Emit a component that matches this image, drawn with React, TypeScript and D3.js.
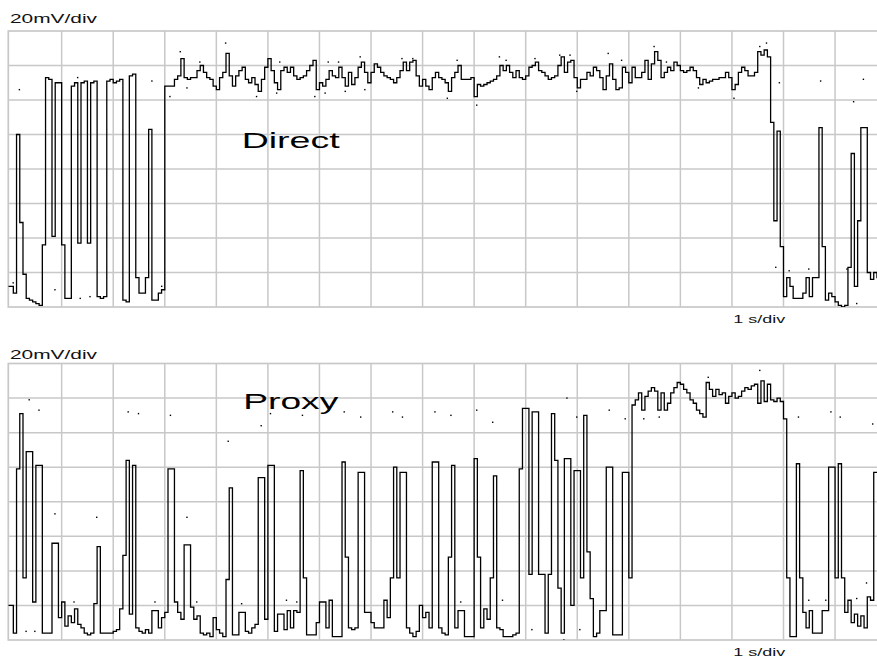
import React, { useRef, useEffect } from 'react';
import * as d3 from 'd3';

// scope record: 16 samples per second, values in mV
const samplesPerSecond = 16;
const voltLabel = '20mV/div';
const timeLabel = '1 s/div';
const panelNames = ['Direct', 'Proxy'];

const directMv = [
  12, 8, 100, 49, 19, 5, 4, 3, 2, 1, 36, 133, 132, 41, 130, 130,
  36, 5, 5, 128, 130, 37, 130, 131, 37, 130, 131, 6, 5, 6, 131, 132,
  130, 131, 132, 4, 3, 134, 135, 17, 8, 8, 17, 103, 4, 4, 8, 10,
  128, 128, 128, 132, 134, 144, 133, 132, 133, 133, 137, 140, 136, 133, 132, 128,
  126, 133, 136, 147, 134, 128, 134, 137, 139, 132, 130, 133, 129, 125, 132, 139,
  144, 137, 130, 126, 137, 139, 136, 139, 134, 132, 133, 134, 137, 140, 143, 126,
  130, 128, 132, 137, 134, 133, 139, 133, 128, 136, 129, 133, 139, 142, 136, 130,
  136, 141, 139, 136, 134, 133, 132, 130, 133, 137, 142, 137, 142, 143, 134, 128,
  132, 128, 126, 133, 136, 133, 132, 130, 125, 133, 136, 140, 132, 132, 132, 133,
  122, 129, 128, 129, 130, 131, 132, 134, 140, 137, 140, 136, 133, 137, 133, 132,
  134, 139, 140, 142, 137, 136, 134, 132, 133, 134, 140, 145, 136, 142, 143, 133,
  127, 132, 132, 136, 134, 139, 137, 133, 126, 134, 141, 132, 126, 127, 139, 136,
  130, 139, 133, 133, 136, 143, 132, 141, 148, 143, 133, 136, 139, 137, 142, 140,
  137, 136, 137, 139, 137, 133, 129, 132, 130, 131, 132, 132, 133, 133, 136, 133,
  126, 129, 136, 139, 137, 134, 134, 136, 148, 146, 149, 145, 107, 50, 102, 35,
  6, 17, 12, 5, 5, 5, 8, 17, 6, 17, 17, 104, 35, 4, 8, 6,
  3, 1, 0, 1, 23, 89, 12, 50, 104, 104, 20, 16, 20, 17, 15, 17,
];

const proxyMv = [
  20, 4, 99, 131, 36, 109, 109, 22, 101, 101, 4, 4, 4, 56, 56, 13,
  22, 8, 14, 10, 18, 9, 7, 4, 3, 4, 21, 54, 4, 4, 4, 4,
  5, 6, 18, 49, 104, 15, 101, 7, 5, 4, 6, 4, 17, 17, 7, 13,
  16, 99, 99, 22, 16, 12, 55, 55, 19, 12, 14, 4, 3, 4, 2, 13,
  6, 4, 2, 35, 88, 3, 3, 16, 16, 5, 4, 7, 9, 94, 94, 12,
  101, 101, 5, 15, 15, 6, 17, 7, 17, 16, 98, 36, 3, 3, 3, 10,
  22, 22, 7, 23, 2, 2, 2, 103, 48, 7, 6, 7, 97, 97, 16, 16,
  10, 7, 7, 7, 23, 13, 36, 100, 36, 97, 97, 7, 4, 2, 5, 20,
  13, 16, 7, 103, 103, 7, 4, 3, 48, 101, 7, 17, 17, 2, 2, 2,
  105, 48, 7, 18, 12, 36, 95, 7, 6, 2, 2, 2, 3, 4, 99, 134,
  134, 38, 132, 132, 38, 38, 4, 38, 131, 104, 30, 4, 105, 105, 20, 98,
  98, 36, 130, 51, 24, 2, 4, 17, 17, 100, 100, 3, 3, 3, 97, 97,
  36, 136, 139, 143, 133, 141, 144, 146, 144, 133, 143, 133, 137, 143, 146, 149,
  148, 145, 143, 139, 137, 133, 131, 129, 149, 145, 141, 145, 142, 143, 137, 141,
  143, 140, 141, 144, 146, 145, 147, 148, 137, 150, 138, 148, 139, 138, 140, 138,
  128, 36, 2, 2, 102, 36, 16, 7, 17, 4, 4, 4, 17, 17, 100, 100,
  36, 102, 36, 16, 23, 10, 15, 8, 14, 7, 25, 23, 97, 97, 97, 40,
];

// stray single-sample dots (time s, mV)
const directDotT = [0.18, 1.31, 2.75, 4.18, 3.3, 3.68, 5.23, 3.1, 3.43, 4.78, 5.17, 0.06, 0.87, 1.36, 1.55, 2.94,
  5.91, 6.11, 6.17, 6.37, 6.5, 6.79, 6.88, 7.6, 7.81, 8.48, 8.67, 9.05, 9.49, 9.62, 10.18, 10.66, 10.86, 10.99,
  11.6, 11.86, 12.49, 12.73, 13.35, 14.04, 14.54, 14.67, 14.92, 15.72, 16.55, 16.36, 14.85, 15.11, 15.49, 16.23, 16.42];
const directDotMv = [126, 133, 131, 153, 148, 142, 142, 122, 127, 122, 124, 14, 10, 5, 6, 12,
  122, 124, 142, 142, 125, 145, 126, 144, 144, 121, 143, 117, 145, 143, 144, 146, 146, 125,
  147, 143, 151, 142, 127, 121, 151, 153, 130, 131, 132, 119, 23, 21, 22, 22, 2];

const proxyDotT = [0.37, 0.56, 2.29, 2.49, 3.11, 4.23, 4.87, 5.05, 0.87, 1.68, 3.43, 0.31, 0.48, 1.24, 2.81, 3.62,
  4.49, 5.36, 5.56, 5.67, 6.48, 6.8, 7.42, 7.61, 8.24, 8.55, 9.05, 9.36, 10.8, 10.99, 8.74, 9.55, 10.12, 10.74,
  11.05, 11.62, 11.93, 14.54, 13.54, 15.29, 15.92, 16.1, 16.73, 15.49, 15.82, 16.42, 16.61, 12.29, 12.59];
const proxyDotMv = [139, 133, 132, 131, 130, 115, 124, 131, 73, 71, 71, 5, 5, 22, 22, 22,
  21, 23, 22, 130, 132, 129, 132, 129, 132, 130, 133, 126, 140, 129, 22, 23, 6, 0,
  6, 133, 128, 156, 152, 129, 132, 129, 125, 23, 23, 24, 33, 128, 129];

const App = () => {
  const svgRef = useRef<SVGSVGElement>(null);

  useEffect(() => {
    const svg = d3.select(svgRef.current);
    svg.selectAll('*').remove();

    const font = 'Liberation Sans, Arial, sans-serif';
    const gridColor = '#c8c8c8';
    const left = 8.3;

    // 1 s per division
    const x = d3.scaleLinear().domain([0, 16]).range([10.1, 835.06]);

    const panels = [
      { name: panelNames[0], top: 31, bottom: 307, trace: directMv, dotT: directDotT, dotMv: directDotMv, voltY: 22.5, timeY: 323, nameY: 148.3, nameX: 241.7, nameW: 98 },
      { name: panelNames[1], top: 363.5, bottom: 640, trace: proxyMv, dotT: proxyDotT, dotMv: proxyDotMv, voltY: 358.5, timeY: 655.5, nameX: 243.3, nameY: 408.5, nameW: 95 },
    ];

    panels.forEach((p, pi) => {
      // 20 mV per division, 8 divisions
      const y = d3.scaleLinear().domain([0, 160]).range([p.bottom, p.top]);
      const g = svg.append('g');

      const clipId = `clip-${pi}`;
      svg.append('clipPath').attr('id', clipId)
        .append('rect')
        .attr('x', left).attr('y', p.top)
        .attr('width', 900).attr('height', p.bottom - p.top);

      // grid
      g.selectAll('line.v')
        .data(d3.range(1, 17))
        .enter().append('line')
        .attr('x1', d => x(d)).attr('x2', d => x(d))
        .attr('y1', p.top).attr('y2', p.bottom)
        .attr('stroke', gridColor).attr('stroke-width', 1.5);
      g.selectAll('line.h')
        .data(d3.range(20, 160, 20))
        .enter().append('line')
        .attr('x1', left).attr('x2', 900)
        .attr('y1', d => y(d)).attr('y2', d => y(d))
        .attr('stroke', gridColor).attr('stroke-width', 1.5);
      g.append('rect')
        .attr('x', left).attr('y', p.top)
        .attr('width', 920).attr('height', p.bottom - p.top)
        .attr('fill', 'none')
        .attr('stroke', gridColor).attr('stroke-width', 1.7);

      // trace
      const pts: [number, number][] = p.trace.map((v, i) => [i / samplesPerSecond, v]);
      pts.unshift([x.invert(left), p.trace[0]]);
      const line = d3.line<[number, number]>()
        .x(d => x(d[0]))
        .y(d => y(d[1]))
        .curve(d3.curveStepAfter);
      const tg = g.append('g').attr('clip-path', `url(#${clipId})`);
      tg.append('path')
        .attr('d', line(pts))
        .attr('fill', 'none')
        .attr('stroke', '#000')
        .attr('stroke-width', 1.3);
      tg.selectAll('rect.dot')
        .data(p.dotT.map((t, i) => [t, p.dotMv[i]]))
        .enter().append('rect')
        .attr('x', d => x(d[0]) - 0.7)
        .attr('y', d => y(d[1]) - 0.7)
        .attr('width', 1.4).attr('height', 1.4)
        .attr('fill', '#000');

      // labels
      g.append('text')
        .attr('x', 10).attr('y', p.voltY)
        .attr('font-family', font).attr('font-size', 12.5)
        .attr('textLength', 87).attr('lengthAdjust', 'spacingAndGlyphs')
        .attr('fill', '#111')
        .text(voltLabel);
      g.append('text')
        .attr('x', 733.3).attr('y', p.timeY)
        .attr('font-family', font).attr('font-size', 11.5)
        .attr('textLength', 52).attr('lengthAdjust', 'spacingAndGlyphs')
        .attr('fill', '#111')
        .text(timeLabel);
      g.append('text')
        .attr('x', p.nameX).attr('y', p.nameY)
        .attr('font-family', font).attr('font-size', 22)
        .attr('textLength', p.nameW).attr('lengthAdjust', 'spacingAndGlyphs')
        .attr('fill', '#000')
        .text(p.name);
    });
  }, []);

  return (
    <svg
      ref={svgRef}
      width={877}
      height={656}
      style={{ position: 'absolute', left: 0, top: 0, background: '#fff' }}
    />
  );
};

export default App;
